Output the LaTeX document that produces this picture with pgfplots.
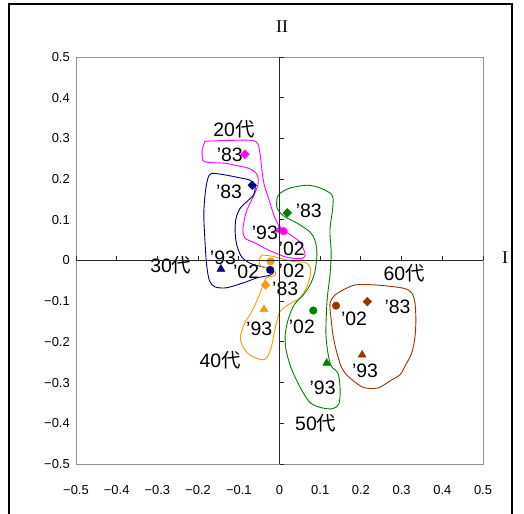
\documentclass[border=0pt]{standalone}
\usepackage{pgfplots}
\pgfplotsset{compat=1.18}
\usepackage{fontspec}
\setmainfont{Liberation Sans}
\newfontfamily\jp{Noto Sans CJK JP}
\newfontfamily\serifr{Liberation Serif}
\definecolor{cMag}{HTML}{FF00FF}
\definecolor{cNavy}{HTML}{000080}
\definecolor{cOrg}{HTML}{FF9900}
\definecolor{cGrn}{HTML}{008000}
\definecolor{cBrn}{HTML}{993300}
\begin{document}
\begin{tikzpicture}
\useasboundingbox (-76bp,-50bp) rectangle (448bp,464bp);
\draw[line width=1.4bp] (-67bp,-60bp) rectangle (436bp,460bp);
\begin{axis}[at={(0,0)}, anchor=south west, scale only axis,
  width=407bp, height=407bp,
  xmin=-0.5, xmax=0.5, ymin=-0.5, ymax=0.5,
  axis line style={draw=gray!85, line width=0.9bp},
  major tick length=0pt,
  xtick={-0.5,-0.4,-0.3,-0.2,-0.1,0,0.1,0.2,0.3,0.4,0.5},
  ytick={-0.5,-0.4,-0.3,-0.2,-0.1,0,0.1,0.2,0.3,0.4,0.5},
  xticklabels={−0.5,−0.4,−0.3,−0.2,−0.1,0,0.1,0.2,0.3,0.4,0.5},
  yticklabels={−0.5,−0.4,−0.3,−0.2,−0.1,0,0.1,0.2,0.3,0.4,0.5},
  tick label style={font=\fontsize{13}{14}\selectfont, inner sep=0pt},
  xticklabel style={yshift=-21bp},
  yticklabel style={xshift=-6bp},
  clip=false,
]
% outlines
\addplot[cMag, line width=0.9bp, smooth, tension=0.5] coordinates {
(-0.183,0.293)(-0.127,0.295)(-0.068,0.295)(-0.053,0.286)(-0.048,0.263)(-0.045,0.239)(-0.041,0.205)(-0.036,0.180)(-0.028,0.156)(-0.018,0.124)(-0.011,0.104)(0.001,0.082)(0.021,0.067)(0.045,0.050)(0.057,0.033)(0.063,0.013)(0.055,0.005)(0.038,0.005)(0.014,0.009)(-0.004,0.016)(-0.028,0.026)(-0.060,0.043)(-0.085,0.055)(-0.090,0.075)(-0.085,0.107)(-0.077,0.131)(-0.065,0.156)(-0.053,0.185)(-0.053,0.205)(-0.060,0.217)(-0.077,0.227)(-0.109,0.234)(-0.134,0.239)(-0.176,0.241)(-0.188,0.246)(-0.190,0.271)(-0.183,0.293)};
\addplot[cNavy, line width=0.9bp, smooth, tension=0.5] coordinates {
(-0.175,0.205)(-0.167,0.214)(-0.138,0.211)(-0.097,0.203)(-0.072,0.197)(-0.060,0.181)(-0.064,0.161)(-0.081,0.144)(-0.097,0.128)(-0.107,0.103)(-0.109,0.071)(-0.105,0.038)(-0.093,0.009)(-0.072,-0.007)(-0.044,-0.015)(-0.019,-0.021)(-0.015,-0.029)(-0.023,-0.036)(-0.056,-0.043)(-0.089,-0.055)(-0.130,-0.067)(-0.158,-0.065)(-0.172,-0.050)(-0.179,-0.011)(-0.183,0.046)(-0.186,0.112)(-0.183,0.161)(-0.179,0.189)(-0.175,0.205)};
\addplot[cOrg, line width=0.9bp, smooth, tension=0.5] coordinates {
(-0.048,0.006)(-0.043,0.013)(-0.016,0.010)(0.031,-0.002)(0.063,-0.005)(0.075,-0.016)(0.075,-0.040)(0.066,-0.067)(0.050,-0.092)(0.021,-0.109)(0.001,-0.126)(-0.007,-0.151)(-0.014,-0.183)(-0.020,-0.212)(-0.031,-0.239)(-0.043,-0.244)(-0.072,-0.233)(-0.090,-0.212)(-0.096,-0.187)(-0.085,-0.153)(-0.070,-0.129)(-0.057,-0.102)(-0.044,-0.070)(-0.033,-0.043)(-0.011,-0.037)(-0.011,-0.027)(-0.028,-0.018)(-0.044,-0.015)(-0.050,-0.005)(-0.048,0.006)};
\addplot[cGrn, line width=0.9bp, smooth, tension=0.5] coordinates {
(-0.006,0.153)(0.001,0.165)(0.026,0.178)(0.068,0.185)(0.100,0.178)(0.129,0.161)(0.131,0.131)(0.124,0.075)(0.127,0.018)(0.124,-0.036)(0.117,-0.097)(0.114,-0.178)(0.119,-0.227)(0.127,-0.259)(0.144,-0.278)(0.149,-0.317)(0.146,-0.352)(0.131,-0.364)(0.104,-0.362)(0.075,-0.349)(0.050,-0.310)(0.028,-0.263)(0.016,-0.219)(0.014,-0.183)(0.021,-0.146)(0.036,-0.109)(0.058,-0.085)(0.075,-0.060)(0.087,-0.028)(0.092,0.018)(0.087,0.050)(0.075,0.070)(0.043,0.092)(0.011,0.109)(-0.006,0.129)(-0.006,0.153)};
\addplot[cBrn, line width=0.9bp, smooth, tension=0.5] coordinates {
(0.157,-0.072)(0.186,-0.060)(0.235,-0.060)(0.304,-0.068)(0.325,-0.080)(0.333,-0.105)(0.335,-0.146)(0.333,-0.187)(0.325,-0.227)(0.308,-0.260)(0.296,-0.281)(0.276,-0.293)(0.243,-0.313)(0.210,-0.313)(0.194,-0.305)(0.169,-0.285)(0.153,-0.264)(0.141,-0.227)(0.132,-0.187)(0.127,-0.146)(0.124,-0.105)(0.136,-0.085)(0.157,-0.072)};
% markers: diamond='83, triangle='93, circle='02
\pgfplotsset{dia/.style={only marks, mark=square*, mark size=3.1bp, mark options={rotate=45}},
  tri/.style={only marks, mark=triangle*, mark size=4.6bp},
  cir/.style={only marks, mark=*, mark size=3.8bp}}
\addplot[cMag, dia] coordinates {(-0.085,0.261)};
\addplot[cMag, tri] coordinates {(0.000,0.075)};
\addplot[cMag, cir] coordinates {(0.010,0.072)};
\addplot[cNavy, dia] coordinates {(-0.067,0.185)};
\addplot[cNavy, tri] coordinates {(-0.144,-0.021)};
\addplot[cNavy, cir] coordinates {(-0.023,-0.023)};
\addplot[cOrg, dia] coordinates {(-0.034,-0.060)};
\addplot[cOrg, tri] coordinates {(-0.038,-0.120)};
\addplot[cOrg, cir] coordinates {(-0.022,-0.002)};
\addplot[cGrn, dia] coordinates {(0.019,0.117)};
\addplot[cGrn, tri] coordinates {(0.116,-0.252)};
\addplot[cGrn, cir] coordinates {(0.083,-0.123)};
\addplot[cBrn, dia] coordinates {(0.216,-0.101)};
\addplot[cBrn, tri] coordinates {(0.203,-0.232)};
\addplot[cBrn, cir] coordinates {(0.139,-0.111)};
% labels
\begin{scope}[every node/.style={font=\fontsize{19.5}{21}\selectfont, inner sep=0pt}]
\node at (axis cs:-0.122,0.259) {'83};
\node at (axis cs:-0.124,0.168) {'83};
\node at (axis cs:-0.036,0.069) {'93};
\node at (axis cs:0.030,0.028) {'02};
\node at (axis cs:-0.139,0.007) {'93};
\node at (axis cs:-0.082,-0.029) {'02};
\node at (axis cs:0.030,-0.025) {'02};
\node at (axis cs:0.014,-0.070) {'83};
\node at (axis cs:-0.050,-0.168) {'93};
\node at (axis cs:0.072,0.121) {'83};
\node at (axis cs:0.055,-0.164) {'02};
\node at (axis cs:0.106,-0.313) {'93};
\node at (axis cs:0.183,-0.143) {'02};
\node at (axis cs:0.290,-0.115) {'83};
\node at (axis cs:0.210,-0.271) {'93};
\node at (axis cs:-0.112,0.322) {20{\jp 代}};
\node at (axis cs:-0.267,-0.011) {30{\jp 代}};
\node at (axis cs:-0.146,-0.244) {40{\jp 代}};
\node at (axis cs:0.089,-0.401) {50{\jp 代}};
\node at (axis cs:0.306,-0.031) {60{\jp 代}};
\end{scope}
\end{axis}
% centre axes with ticks
\draw[line width=1.3bp, black!85] (203.5bp,0bp) -- (203.5bp,407bp);
\draw[line width=1.3bp, black!85] (0bp,203.5bp) -- (407bp,203.5bp);
\foreach \i in {0,...,10} {
  \draw[line width=0.9bp, black!85] (203.5bp,{\i*40.7bp}) -- ++(4bp,0);
  \draw[line width=0.9bp, black!85] ({\i*40.7bp},203.5bp) -- ++(0,4bp);
}
\node[font=\serifr\fontsize{18}{20}\selectfont] at (206bp,437bp) {II};
\node[font=\serifr\fontsize{18}{20}\selectfont] at (429bp,206bp) {I};
\end{tikzpicture}
\end{document}
